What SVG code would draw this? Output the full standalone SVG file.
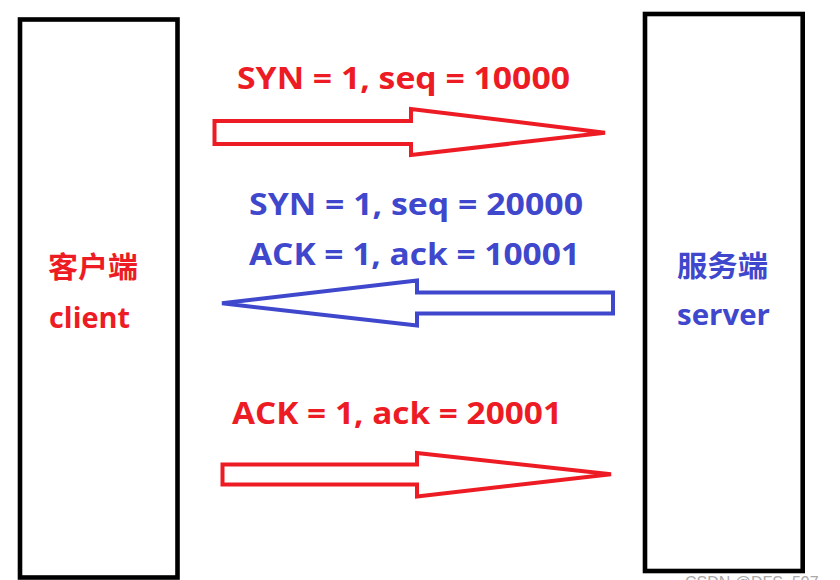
<svg xmlns="http://www.w3.org/2000/svg" width="840" height="580" viewBox="0 0 840 580">
<style>
.box{fill:#fff;stroke:#000;stroke-width:4.6}
.ar{fill:#fff;stroke-width:4;stroke-linejoin:miter}
.red{stroke:#ed1c24}
.blue{stroke:#3f48cc}
.t{font-family:"Open Sans","Noto Sans CJK SC",sans-serif;font-weight:bold}
.tr{fill:#ed1c24}
.tb{fill:#3f48cc}
</style>
<rect width="840" height="580" fill="#fff"/>
<g id="client">
<rect class="box" x="20" y="19.5" width="157.5" height="558"/>
<text class="t tr" x="48" y="278" font-size="29" textLength="90" lengthAdjust="spacingAndGlyphs">客户端</text>
<text class="t tr" x="49" y="328" font-size="29" textLength="81" lengthAdjust="spacingAndGlyphs">client</text>
</g>
<g id="server">
<rect class="box" x="645" y="14" width="157.7" height="557"/>
<text class="t tb" x="677" y="277" font-size="29" textLength="91" lengthAdjust="spacingAndGlyphs">服务端</text>
<text class="t tb" x="677" y="325" font-size="29" textLength="93" lengthAdjust="spacingAndGlyphs">server</text>
</g>
<g id="connectors">
<polygon class="ar red" points="214.5,121 411,121 411,109 605,132.7 411,155 411,144 214.5,144"/>
<polygon class="ar blue" points="222,303.3 417,280.5 417,292.5 613,292.5 613,313.5 417,313.5 417,325.5"/>
<polygon class="ar red" points="222.5,464.5 417,464.5 417,453 611,474.3 417,496.5 417,484.5 222.5,484.5"/>
</g>
<g id="labels">
<text class="t tr" x="237" y="89.3" font-size="30" textLength="333" lengthAdjust="spacingAndGlyphs">SYN = 1, seq = 10000</text>
<text class="t tb" x="249" y="215" font-size="30" textLength="334" lengthAdjust="spacingAndGlyphs">SYN = 1, seq = 20000</text>
<text class="t tb" x="249" y="265" font-size="30" textLength="331" lengthAdjust="spacingAndGlyphs">ACK = 1, ack = 10001</text>
<text class="t tr" x="232" y="424.3" font-size="30" textLength="330" lengthAdjust="spacingAndGlyphs">ACK = 1, ack = 20001</text>
</g>
<text x="685" y="588" font-family="Liberation Sans,sans-serif" font-size="16" fill="#aaa">CSDN @DFS_597</text>
</svg>
